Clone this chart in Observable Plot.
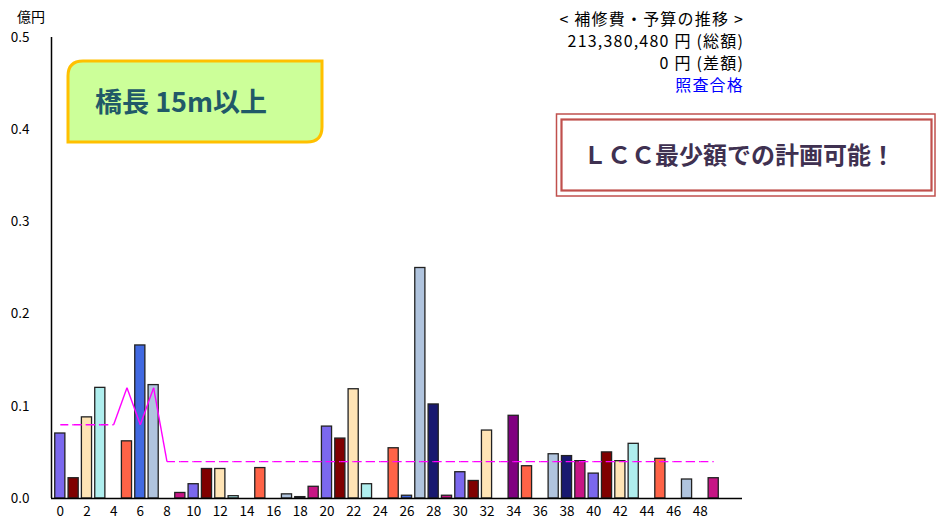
<!DOCTYPE html>
<html>
<head>
<meta charset="utf-8">
<script src="https://cdn.jsdelivr.net/npm/d3@7"></script>
<script src="https://cdn.jsdelivr.net/npm/@observablehq/plot@0.6"></script>
<style>
  html, body { margin: 0; padding: 0; background: #fff; }
  #chart { position: relative; width: 936px; height: 522px; }
</style>
</head>
<body>
<div id="chart"></div>
<script>
// ---- data (億円) ----
const years = d3.range(0, 50);
const costs = [
  0.0705, 0.022, 0.088, 0.120, 0, 0.062, 0.166, 0.123, 0, 0.006,
  0.0155, 0.032, 0.032, 0.0025, 0, 0.033, 0, 0.0045, 0.0015, 0.0127,
  0.078, 0.065, 0.1185, 0.0155, 0, 0.0545, 0.003, 0.250, 0.102, 0.003,
  0.0285, 0.019, 0.0737, 0, 0.0897, 0.035, 0, 0.048, 0.046, 0.0405,
  0.027, 0.050, 0.0405, 0.0593, 0, 0.043, 0, 0.0206, 0, 0.022
];
const budget = [
  0.08, 0.08, 0.08, 0.08, 0.08, 0.12, 0.08, 0.12, 0.04, 0.04,
  0.04, 0.04, 0.04, 0.04, 0.04, 0.04, 0.04, 0.04, 0.04, 0.04,
  0.04, 0.04, 0.04, 0.04, 0.04, 0.04, 0.04, 0.04, 0.04, 0.04,
  0.04, 0.04, 0.04, 0.04, 0.04, 0.04, 0.04, 0.04, 0.04, 0.04,
  0.04, 0.04, 0.04, 0.04, 0.04, 0.04, 0.04, 0.04, 0.04, 0.04
];
const palette = ["#7B68EE", "#800000", "#FFE4B5", "#AFEEEE", "#800080",
                 "#FF6347", "#4169E1", "#B0C4DE", "#191970", "#C71585"];
const xTicks = d3.range(0, 50, 2);
const yTicks = [0, 0.1, 0.2, 0.3, 0.4, 0.5];
const unitLabel = "億円";
const titleLines = ["< 補修費・予算の推移 >", "213,380,480 円 (総額)", "0 円 (差額)"];
const statusLabel = "照査合格";
const bridgeLabel = "橋長 15m以上";
const noteLabel = "ＬＣＣ最少額での計画可能！";

// ---- derived tables ----
const bars = years.map((y, i) => ({year: y, value: costs[i], color: palette[i % palette.length]}))
  .filter(d => d.value > 0);
const segs = years.slice(1).map((y, k) => ({x1: years[k], y1: budget[k], x2: y, y2: budget[k + 1]}));
const flatSegs = segs.filter(s => s.y1 === s.y2);
const stepSegs = segs.filter(s => s.y1 !== s.y2);

const xDomain = [-0.66, 51.16];
const font = "'Noto Sans CJK JP', 'Noto Sans', sans-serif";

const chart = Plot.plot({
  width: 936,
  height: 522,
  marginLeft: 51,
  marginRight: 194,
  marginTop: 37,
  marginBottom: 24,
  x: {type: "linear", domain: xDomain},
  y: {domain: [0, 0.5]},
  color: {type: "identity"},
  style: {fontFamily: font, fontSize: "13.5px", color: "#000", background: "#fff", overflow: "visible"},
  marks: [
    Plot.rectY(bars, {
      x1: d => d.year - 0.38, x2: d => d.year + 0.38, y: "value",
      fill: "color", stroke: "#222", strokeWidth: 1.3
    }),
    Plot.link(flatSegs, {x1: "x1", y1: "y1", x2: "x2", y2: "y2",
      stroke: "#FF00FF", strokeWidth: 1.4, strokeDasharray: "8,4"}),
    Plot.link(stepSegs, {x1: "x1", y1: "y1", x2: "x2", y2: "y2",
      stroke: "#FF00FF", strokeWidth: 1.4}),
    Plot.ruleY([0], {stroke: "#000", strokeWidth: 1.5}),
    Plot.ruleX([xDomain[0]], {y1: 0, y2: 0.5, stroke: "#000", strokeWidth: 1.5}),
    Plot.axisX({ticks: xTicks, tickSize: 0, tickPadding: 8, tickFormat: d => String(d), label: null}),
    Plot.axisY({ticks: yTicks, tickSize: 0, tickPadding: 22, tickFormat: d3.format(".1f"), label: null})
  ]
});

document.getElementById("chart").appendChild(chart);

// ---- annotations ----
const svg = d3.select(chart);
const ann = svg.append("g").attr("font-family", font).attr("text-anchor", "start");

ann.append("text").attr("x", 17).attr("y", 17).attr("dy", "0.35em").attr("text-anchor", "start")
  .attr("font-size", 14).attr("fill", "#000").text(unitLabel);

// green label box (rounded top-left & bottom-right)
const gx0 = 68, gy0 = 61, gx1 = 322, gy1 = 142, r = 15;
ann.append("path")
  .attr("d", `M${gx0 + r},${gy0} L${gx1},${gy0} L${gx1},${gy1 - r} Q${gx1},${gy1} ${gx1 - r},${gy1} L${gx0},${gy1} L${gx0},${gy0 + r} Q${gx0},${gy0} ${gx0 + r},${gy0} Z`)
  .attr("fill", "#CCFF99").attr("stroke", "#FFC000").attr("stroke-width", 3);
ann.append("text").attr("x", 95).attr("y", 103).attr("dy", "0.35em").attr("text-anchor", "start")
  .attr("font-size", 27).attr("font-weight", "bold").attr("fill", "#215968").text(bridgeLabel);

// title block top-right
titleLines.forEach((t, i) => {
  ann.append("text").attr("x", 744).attr("y", 19 + i * 22).attr("dy", "0.35em")
    .attr("text-anchor", "end").attr("font-size", 16).attr("letter-spacing", "1.2px")
    .attr("fill", "#000").text(t);
});
ann.append("text").attr("x", 744).attr("y", 85).attr("dy", "0.35em")
  .attr("text-anchor", "end").attr("font-size", 16).attr("letter-spacing", "1.2px")
  .attr("fill", "#0000FF").text(statusLabel);

// red double box
ann.append("rect").attr("x", 556.5).attr("y", 114).attr("width", 378.5).attr("height", 82)
  .attr("fill", "#fff").attr("stroke", "#C0504D").attr("stroke-width", 1.5);
ann.append("rect").attr("x", 561.5).attr("y", 119.5).attr("width", 370).attr("height", 71)
  .attr("fill", "none").attr("stroke", "#C0504D").attr("stroke-width", 2.2);
ann.append("text").attr("x", 583).attr("y", 156).attr("dy", "0.35em").attr("text-anchor", "start")
  .attr("font-size", 24).attr("font-weight", "bold").attr("fill", "#3F3151").text(noteLabel);
</script>
</body>
</html>
